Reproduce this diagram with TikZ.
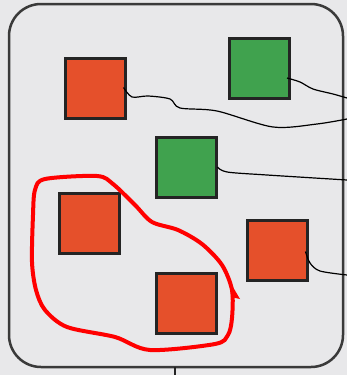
\documentclass[tikz,border=0pt]{standalone}
\usepackage[dvipsnames,svgnames]{xcolor}
\usepackage{tikz}
\usetikzlibrary{
  calc,
  positioning
}
\definecolor{paper}{HTML}{E8E8EA}
\definecolor{brick}{HTML}{E5502B}
\definecolor{leaf}{HTML}{40A24E}
\definecolor{ink}{HTML}{242424}

\begin{document}
\begin{tikzpicture}[x=1pt,y=-1pt]
  \tikzset{
    block/.style={
      draw=ink, line width=3pt, minimum size=60pt, inner sep=0pt
    },
    redblock/.style={block, fill=brick},
    greenblock/.style={block, fill=leaf},
    wire/.style={draw=black, line width=1.2pt},
    loopline/.style={draw=red, line width=4pt, line join=round},
    % every node/.style={font=\large}
  }
\useasboundingbox[fill=paper] (0,0) rectangle (347,375);

% the frame
\draw[draw=ink!90, line width=2.5pt, rounded corners=32pt, fill=paper]
  (9,4) rectangle (343,367);
\coordinate (stem) at (175,367);
\draw[draw=ink, line width=2pt] (stem)--++(0,8);

\node[redblock] (o1) at (95,88.5) {};
\node[greenblock] (g1) at (259.5,68) {};
\node[greenblock] (g2) at (186,167) {};
\node[redblock] (o2) at (89,223.5) {};
\node[redblock] (o3) at (277,250.5) {};
\node[redblock] (o4) at (186.5,303.5) {};

\coordinate (w1) at (347,119);
\coordinate (w2) at (347,98);
\coordinate (w3) at (347,180);
\coordinate (w4) at (347,275);

\draw[wire] plot[smooth, tension=0.5] coordinates
  {($(o1.east)+(-3,-1)$) (132,97) (148,96) (170,99) (180,108) (217,111)
   (273,127) (317,124) (w1)};
\draw[wire] plot[smooth, tension=0.5] coordinates
  {($(g1.east)+(-4,10)$) (300,82) (313,89) (333,94) (w2)};
\draw[wire] plot[smooth, tension=0.5] coordinates
  {(g2.east) (227,172) (267,175) (w3)};
\draw[wire] plot[smooth, tension=0.5] coordinates
  {($(o3.east)+(-3,1)$) (310,263) (320,271) (w4)};

% the loop round two red blocks
\draw[loopline] plot[smooth cycle, tension=0.5] coordinates
  {(35,190) (45,179) (97,176) (113,184) (135,205) (152,222) (178,230)
   (202,244) (222,265) (232,290) (232,318) (228,335) (215,344) (150,350)
   (115,337) (67,327) (45,310) (36,290) (32,262) (33,215)};
\fill[red] (230,282)--(240,299)--(231,297)--cycle;

\end{tikzpicture}
\end{document}
